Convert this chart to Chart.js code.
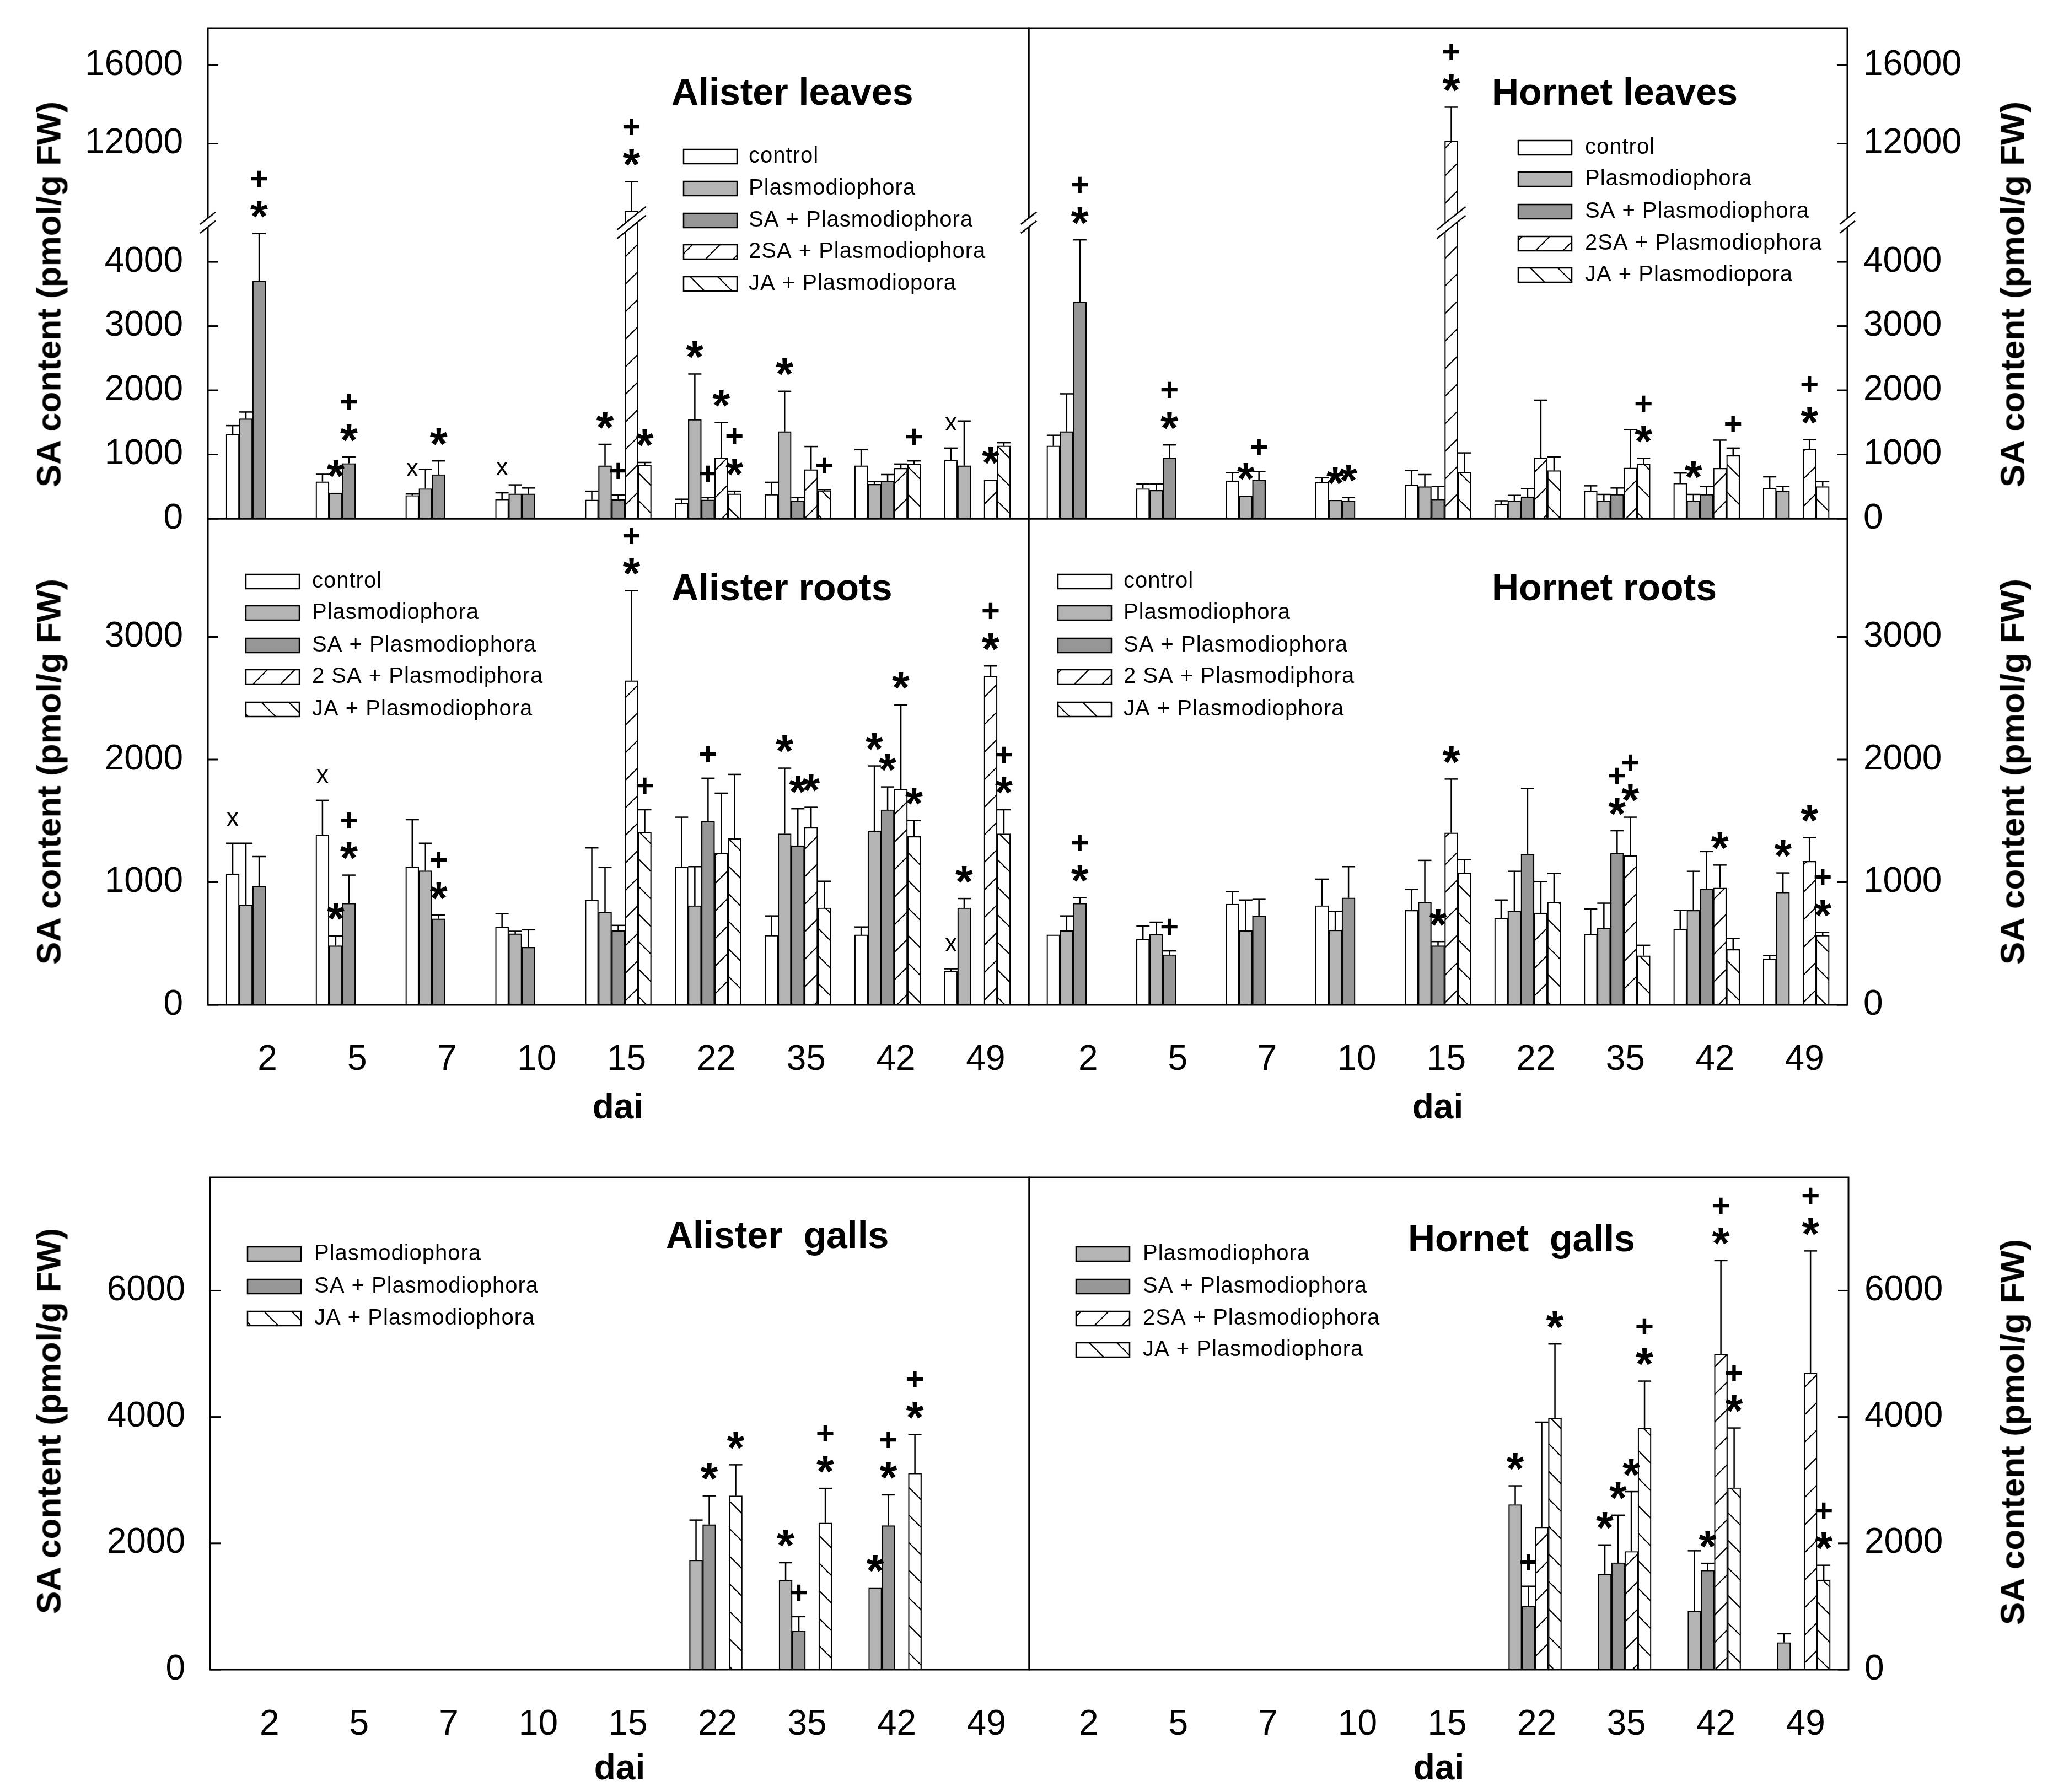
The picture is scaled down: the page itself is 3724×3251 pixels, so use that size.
<!DOCTYPE html>
<html>
<head>
<meta charset="utf-8">
<script src="https://cdn.jsdelivr.net/npm/chart.js@4.4.1/dist/chart.umd.min.js"></script>
<style>
  html, body { margin: 0; padding: 0; background: #fff; }
  body { width: 3724px; height: 3251px; position: relative; overflow: hidden; font-family: "Liberation Sans", Arial, sans-serif; }
  canvas { position: absolute; }
  .yt { position: absolute; transform: translate(-50%, -50%) rotate(-90deg); font-weight: bold; font-size: 62px; white-space: nowrap; }
  .xt { position: absolute; transform: translate(-50%, -50%); font-weight: bold; font-size: 64px; }
</style>
</head>
<body>
<canvas id="alLeaves"></canvas>
<canvas id="hoLeaves"></canvas>
<canvas id="alRoots"></canvas>
<canvas id="hoRoots"></canvas>
<canvas id="alGalls"></canvas>
<canvas id="hoGalls"></canvas>

<div class="yt" style="left:88px; top:534px">SA content (pmol/g FW)</div>
<div class="yt" style="left:88px; top:1400px">SA content (pmol/g FW)</div>
<div class="yt" style="left:88px; top:2578px">SA content (pmol/g FW)</div>
<div class="yt" style="left:3650px; top:534px">SA content (pmol/g FW)</div>
<div class="yt" style="left:3650px; top:1400px">SA content (pmol/g FW)</div>
<div class="yt" style="left:3650px; top:2598px">SA content (pmol/g FW)</div>
<div class="xt" style="left:1121px; top:2007px">dai</div>
<div class="xt" style="left:2608px; top:2007px">dai</div>
<div class="xt" style="left:1124px; top:3206px">dai</div>
<div class="xt" style="left:2610px; top:3206px">dai</div>

<script>
const N = null;
const days = [2, 5, 7, 10, 15, 22, 35, 42, 49];

// rows: control, Plasmodiophora, SA + P., 2SA + P., JA + P.
// *Mean = bar height, *Top = top of the error bar
const alLeavesMean = [
  [1320, 577, 363, 303, 294, 239, 378, 826, 910],
  [1557, 403, 468, 388, 826, 1547, 1358, 537, 826],
  [3700, 861, 687, 388, 300, 294, 279, 587, N],
  [N, N, N, N, 8550, 950, 766, 786, 602],
  [N, N, N, N, 836, 388, 438, 851, 1134]
];
const alLeavesTop = [
  [1450, 692, 385, 403, 428, 303, 567, 1075, 1100],
  [1662, N, 766, 527, 1159, 2254, 1985, 577, 1522],
  [4443, 960, 900, 478, 370, 328, 328, 687, N],
  [N, N, N, N, 10050, 1498, 1124, 851, N],
  [N, N, N, N, 876, 428, 453, 900, 1184]
];
const alLeavesMarks = [
  ['', '', 'x', 'x', '', '', '', '', 'x'],
  ['', '*', '', '', '*', '*', '*', '', ''],
  ['*+', '*+', '*', '', '+', '+', '', '', ''],
  ['', '', '', '', '*+', '*', '', '', '*'],
  ['', '', '', '', '*', '*+', '+', '+', '']
];

const hoLeavesMean = [
  [1134, 468, 592, 567, 527, 229, 428, 552, 478],
  [1358, 443, 353, 289, 502, 279, 279, 279, 428],
  [3373, 950, 602, 279, 303, 343, 378, 378, N],
  [N, N, N, N, 12130, 950, 791, 786, 1085],
  [N, N, N, N, 726, 751, 851, 985, 502]
];
const hoLeavesTop = [
  [1299, 542, 716, 637, 751, 279, 512, 711, 652],
  [1945, 542, N, N, 687, 363, 378, 378, 502],
  [4343, 1149, 736, 328, 502, 468, 478, 502, N],
  [N, N, N, N, 13860, 1846, 1388, 1224, 1234],
  [N, N, N, N, 1025, 960, 940, 1100, 577]
];
const hoLeavesMarks = [
  ['', '', '', '', '', '', '', '', ''],
  ['', '', '*', '*', '', '', '', '*', ''],
  ['*+', '*+', '+', '*', '', '', '', '', ''],
  ['', '', '', '', '*+', '', '', '', '*+'],
  ['', '', '', '', '', '', '*+', '+', '']
];

const alRootsMean = [
  [1069, 1387, 1127, 635, 855, 1127, 567, 571, 274],
  [817, 483, 1094, 580, 758, 809, 1395, 1420, 791],
  [967, 829, 702, 470, 605, 1497, 1298, 1591, N],
  [N, N, N, N, 2643, 1237, 1446, 1757, 2682],
  [N, N, N, N, 1408, 1357, 791, 1374, 1395]
];
const alRootsTop = [
  [1318, 1668, 1510, 745, 1280, 1530, 725, 635, 294],
  [1318, 562, 1318, 600, 1120, 1127, 1930, 1948, 867],
  [1209, 1058, 732, 612, 648, 1848, 1599, 1777, N],
  [N, N, N, N, 3377, 1726, 1611, 2445, 2763],
  [N, N, N, N, 1591, 1879, 1008, 1502, 1591]
];
const alRootsMarks = [
  ['x', 'x', '', '', '', '', '', '', 'x'],
  ['', '*', '', '', '', '', '*', '*', '*'],
  ['', '*+', '*+', '', '', '+', '*', '*', ''],
  ['', '', '', '', '*+', '', '*', '*', '*+'],
  ['', '', '', '', '+', '', '', '*', '*+']
];

const hoRootsMean = [
  [571, 536, 822, 809, 771, 707, 575, 618, 376],
  [605, 575, 605, 610, 839, 763, 625, 771, 918],
  [829, 409, 727, 873, 483, 1229, 1237, 943, N],
  [N, N, N, N, 1403, 750, 1217, 954, 1171],
  [N, N, N, N, 1076, 839, 401, 452, 567]
];
const hoRootsTop = [
  [N, 643, 924, 1025, 941, 855, 783, 771, 401],
  [725, 674, 855, 763, 1178, 1089, 829, 1089, 1076],
  [873, 440, 860, 1127, 516, 1764, 1420, 1250, N],
  [N, N, N, N, 1841, 1005, 1530, 1140, 1364],
  [N, N, N, N, 1183, 1071, 486, 541, 592]
];
const hoRootsMarks = [
  ['', '', '', '', '', '', '', '', ''],
  ['', '', '', '', '', '', '', '', '*'],
  ['*+', '+', '', '', '*', '', '*+', '', ''],
  ['', '', '', '', '*', '', '*+', '*', '*'],
  ['', '', '', '', '', '', '', '', '*+']
];

const alGallsMean = [
  [N, N, N, N, N, N, N, N, N],
  [N, N, N, N, N, 1734, 1412, 1294, N],
  [N, N, N, N, N, 2297, 609, 2281, N],
  [N, N, N, N, N, N, N, N, N],
  [N, N, N, N, N, 2752, 2322, 3110, N]
];
const alGallsTop = [
  [N, N, N, N, N, N, N, N, N],
  [N, N, N, N, N, 2368, 1693, N, N],
  [N, N, N, N, N, 2752, 839, 2767, N],
  [N, N, N, N, N, N, N, N, N],
  [N, N, N, N, N, 3243, 2870, 3724, N]
];
const alGallsMarks = [
  ['', '', '', '', '', '', '', '', ''],
  ['', '', '', '', '', '', '*', '*', ''],
  ['', '', '', '', '', '*', '+', '*+', ''],
  ['', '', '', '', '', '', '', '', ''],
  ['', '', '', '', '', '*', '*+', '*+', '']
];

const hoGallsMean = [
  [N, N, N, N, N, N, N, N, N],
  [N, N, N, N, N, 2614, 1514, 926, 430],
  [N, N, N, N, N, 1003, 1693, 1575, N],
  [N, N, N, N, N, 2256, 1872, 4992, 4701],
  [N, N, N, N, N, 3985, 3826, 2880, 1422]
];
const hoGallsTop = [
  [N, N, N, N, N, N, N, N, N],
  [N, N, N, N, N, 2910, 1974, 1882, 568],
  [N, N, N, N, N, 1320, 2445, 1683, N],
  [N, N, N, N, N, 3918, 2818, 6476, 6629],
  [N, N, N, N, N, 5156, 4568, 3826, 1652]
];
const hoGallsMarks = [
  ['', '', '', '', '', '', '', '', ''],
  ['', '', '', '', '', '*', '*', '', ''],
  ['', '', '', '', '', '+', '*', '*', ''],
  ['', '', '', '', '', '', '*', '*+', '*+'],
  ['', '', '', '', '', '*', '*+', '*+', '*+']
];

const leavesLegend = ['control', 'Plasmodiophora', 'SA + Plasmodiophora', '2SA + Plasmodiophora', 'JA + Plasmodiopora'];
const rootsLegend = ['control', 'Plasmodiophora', 'SA + Plasmodiophora', '2 SA + Plasmodiphora', 'JA + Plasmodiophora'];
const alGallsLegend = ['Plasmodiophora', 'SA + Plasmodiophora', 'JA + Plasmodiophora'];
const hoGallsLegend = ['Plasmodiophora', 'SA + Plasmodiophora', '2SA + Plasmodiophora', 'JA + Plasmodiophora'];

const leavesTicks = [0, 1000, 2000, 3000, 4000, 12000, 16000];
const rootsTicks = [0, 1000, 2000, 3000];
const gallsTicks = [0, 2000, 4000, 6000];

const FONT = '"Liberation Sans", Arial, sans-serif';

// y scale with an optional break (leaves panels: 0-4600 below, 8000+ above)
const BREAKS = {}, TICKS = {};
class BrokenScale extends Chart.LinearScale {
  buildTicks() {
    return TICKS[this.chart.canvas.id].map(v => ({ value: v }));
  }
  getPixelForValue(v) {
    if (v === null || v === undefined || isNaN(v)) return NaN;
    const b = BREAKS[this.chart.canvas.id];
    const lo = this.min, hi = this.max;
    let d;
    if (!b) d = (v - lo) / (hi - lo);
    else if (v <= b.lowMax) d = (v - lo) / (b.lowMax - lo) * b.lowFrac;
    else if (v < b.highMin) d = b.lowFrac + (v - b.lowMax) / (b.highMin - b.lowMax) * b.gapFrac;
    else d = b.lowFrac + b.gapFrac + (v - b.highMin) / (hi - b.highMin) * (1 - b.lowFrac - b.gapFrac);
    return this.getPixelForDecimal(d);
  }
}
BrokenScale.id = 'broken';
BrokenScale.defaults = {};
Chart.register(BrokenScale);

function hatchTile(dir) {
  const s = 50, c = document.createElement('canvas');
  c.width = s; c.height = s;
  const g = c.getContext('2d');
  g.fillStyle = '#fff'; g.fillRect(0, 0, s, s);
  g.strokeStyle = '#000'; g.lineWidth = 2.2;
  g.beginPath();
  for (let k = -1; k <= 2; k++) {
    if (dir > 0) { g.moveTo(-5, k * s + 5); g.lineTo(k * s + 5, -5); }
    else { g.moveTo(-5, k * s - 5); g.lineTo(s + 5, k * s + s + 5); }
  }
  g.stroke();
  return c;
}

function seg(g, x1, y1, x2, y2) {
  g.beginPath(); g.moveTo(x1, y1); g.lineTo(x2, y2); g.stroke();
}

function glyph(g, ch, x, cy) {
  g.font = ch === '*' ? 'bold 82px ' + FONT : ch === '+' ? 'bold 58px ' + FONT : '44px ' + FONT;
  g.textAlign = 'left'; g.textBaseline = 'alphabetic';
  const m = g.measureText(ch);
  const bx = x - (m.actualBoundingBoxRight - m.actualBoundingBoxLeft) / 2;
  const by = cy + (m.actualBoundingBoxAscent - m.actualBoundingBoxDescent) / 2;
  g.fillText(ch, bx, by);
}

function brkMark(g, x, y, hw) {
  const k = hw * 0.8, d = 8;
  g.save();
  g.fillStyle = '#fff';
  g.beginPath();
  g.moveTo(x - hw, y + d + k); g.lineTo(x + hw, y + d - k);
  g.lineTo(x + hw, y - d - k); g.lineTo(x - hw, y - d + k);
  g.closePath(); g.fill();
  g.strokeStyle = '#000'; g.lineWidth = 2.5;
  seg(g, x - hw, y + d + k, x + hw, y + d - k);
  seg(g, x - hw, y - d + k, x + hw, y - d - k);
  g.restore();
}

// error bars, marks, frame, ticks, break marks, legend, title
function decor(o, cl, ct) {
  return {
    id: 'decor',
    afterDatasetsDraw(chart) {
      const g = chart.ctx, ys = chart.scales.y, a = chart.chartArea;
      g.save();
      g.strokeStyle = '#000'; g.fillStyle = '#000';

      chart.data.datasets.forEach((ds, i) => {
        chart.getDatasetMeta(i).data.forEach((bar, j) => {
          if (ds.data[j] == null) return;
          let anchor = bar.y;
          const top = o.top[i][j];
          if (top != null) {
            const yt = ys.getPixelForValue(top);
            g.lineWidth = 2.5;
            seg(g, bar.x, bar.y, bar.x, yt);
            seg(g, bar.x - 12, yt, bar.x + 12, yt);
            anchor = yt;
          }
          let cy = anchor - 44;
          for (const ch of o.marks[i][j]) { glyph(g, ch, bar.x, cy); cy -= 56; }
        });
      });

      g.lineWidth = 3;
      g.strokeRect(a.left, a.top, a.right - a.left, a.bottom - a.top);
      ys.ticks.forEach(t => {
        const y = ys.getPixelForValue(t.value);
        if (o.side === 'left') seg(g, a.left, y, a.left + 19, y);
        else seg(g, a.right - 19, y, a.right, y);
      });

      if (o.brk) {
        const yb = ys.getPixelForDecimal(o.brk.lowFrac + o.brk.gapFrac / 2);
        brkMark(g, a.left, yb, 14);
        brkMark(g, a.right, yb, 14);
        chart.data.datasets.forEach((ds, i) => chart.getDatasetMeta(i).data.forEach((bar, j) => {
          if (ds.data[j] != null && ds.data[j] > o.brk.lowMax) brkMark(g, bar.x, yb, 26);
        }));
      }

      const L = o.legend;
      g.font = '40px ' + FONT; g.textBaseline = 'middle'; g.textAlign = 'left';
      g.letterSpacing = '1px';
      L.items.forEach((di, k) => {
        const y = L.rows[k] - ct, x = L.x - cl;
        g.fillStyle = chart.data.datasets[di].backgroundColor;
        g.fillRect(x, y - 13, 97, 26);
        g.lineWidth = 2.5; g.strokeRect(x, y - 13, 97, 26);
        g.fillStyle = '#000';
        g.fillText(L.labels[k], L.tx - cl, y);
      });
      g.letterSpacing = '0px';

      g.font = 'bold 68px ' + FONT; g.textBaseline = 'alphabetic';
      g.fillText(o.title[0], o.title[1] - cl, o.title[2] - ct);
      g.restore();
    }
  };
}

function panel(id, o) {
  const cv = document.getElementById(id);
  const [cl, ct, cw, ch] = o.canvas;
  const [al, at, ar, ab] = o.area;
  cv.width = cw; cv.height = ch;
  cv.style.left = cl + 'px'; cv.style.top = ct + 'px';
  const ctx = cv.getContext('2d');
  const fills = ['#ffffff', '#b4b4b4', '#969696',
    ctx.createPattern(hatchTile(1), 'repeat'), ctx.createPattern(hatchTile(-1), 'repeat')];
  TICKS[id] = o.ticks;
  if (o.brk) BREAKS[id] = o.brk;
  const left = o.side === 'left';
  const yW = left ? al - cl : cl + cw - ar;
  const xH = o.showX ? ct + ch - ab : 0;

  new Chart(cv, {
    type: 'bar',
    data: {
      labels: days.map((d, i) => i),
      datasets: o.mean.map((row, i) => ({
        data: row,
        backgroundColor: fills[i],
        borderColor: '#000',
        borderWidth: 2.2,
        borderSkipped: false,
        barThickness: 24
      }))
    },
    options: {
      responsive: false,
      animation: false,
      events: [],
      devicePixelRatio: 1,
      layout: { padding: { left: left ? 0 : al - cl, right: left ? cl + cw - ar : 0, top: at - ct, bottom: o.showX ? 0 : ct + ch - ab } },
      plugins: { legend: { display: false }, tooltip: { enabled: false } },
      scales: {
        x: {
          type: 'linear', offset: false, bounds: 'data', min: -0.5714, max: 8.5714, display: o.showX,
          grid: { display: false }, border: { display: false },
          afterBuildTicks: s => { s.ticks = days.map((d, i) => ({ value: i })); },
          afterFit: s => { s.height = xH; s.paddingLeft = 0; s.paddingRight = 0; },
          ticks: { callback: v => String(days[v]), padding: 54, labelOffset: 15, color: '#000',
                   font: { family: FONT, size: 64 }, maxRotation: 0, autoSkip: false }
        },
        y: {
          type: 'broken', position: o.side, min: 0, max: o.max,
          grid: { display: false }, border: { display: false },
          afterFit: s => { s.width = yW; s.paddingTop = 0; s.paddingBottom = 0; },
          ticks: { callback: v => String(v), padding: left ? 37 : 21, color: '#000',
                   font: { family: FONT, size: 64 }, autoSkip: false }
        }
      }
    },
    plugins: [decor(o, cl, ct)]
  });
}

const leavesBreak = { lowMax: 4600, highMin: 8000, lowFrac: 0.602, gapFrac: 0.003 };

panel('alLeaves', {
  canvas: [0, 0, 1900, 960], area: [377, 51, 1866, 941], side: 'left', showX: false,
  max: 17900, ticks: leavesTicks, brk: leavesBreak,
  mean: alLeavesMean, top: alLeavesTop, marks: alLeavesMarks,
  legend: { x: 1240, tx: 1358, rows: [284, 342, 400, 457, 515], items: [0, 1, 2, 3, 4], labels: leavesLegend },
  title: ['Alister leaves', 1218, 190]
});
panel('hoLeaves', {
  canvas: [1840, 0, 1884, 960], area: [1866, 51, 3351, 941], side: 'right', showX: false,
  max: 17900, ticks: leavesTicks, brk: leavesBreak,
  mean: hoLeavesMean, top: hoLeavesTop, marks: hoLeavesMarks,
  legend: { x: 2754, tx: 2875, rows: [268, 325, 384, 442, 499], items: [0, 1, 2, 3, 4], labels: leavesLegend },
  title: ['Hornet leaves', 2706, 190]
});
panel('alRoots', {
  canvas: [0, 900, 1900, 1100], area: [377, 941, 1866, 1823], side: 'left', showX: true,
  max: 3964, ticks: rootsTicks,
  mean: alRootsMean, top: alRootsTop, marks: alRootsMarks,
  legend: { x: 446, tx: 566, rows: [1055, 1112, 1171, 1228, 1287], items: [0, 1, 2, 3, 4], labels: rootsLegend },
  title: ['Alister roots', 1218, 1089]
});
panel('hoRoots', {
  canvas: [1840, 900, 1884, 1100], area: [1866, 941, 3351, 1823], side: 'right', showX: true,
  max: 3964, ticks: rootsTicks,
  mean: hoRootsMean, top: hoRootsTop, marks: hoRootsMarks,
  legend: { x: 1919, tx: 2038, rows: [1055, 1112, 1171, 1228, 1287], items: [0, 1, 2, 3, 4], labels: rootsLegend },
  title: ['Hornet roots', 2706, 1089]
});
panel('alGalls', {
  canvas: [0, 2100, 1900, 1100], area: [381, 2136, 1867, 3029], side: 'left', showX: true,
  max: 7793, ticks: gallsTicks,
  mean: alGallsMean, top: alGallsTop, marks: alGallsMarks,
  legend: { x: 449, tx: 570, rows: [2275, 2334, 2392], items: [1, 2, 4], labels: alGallsLegend },
  title: ['Alister  galls', 1208, 2264]
});
panel('hoGalls', {
  canvas: [1840, 2100, 1884, 1100], area: [1867, 2136, 3353, 3029], side: 'right', showX: true,
  max: 7793, ticks: gallsTicks,
  mean: hoGallsMean, top: hoGallsTop, marks: hoGallsMarks,
  legend: { x: 1952, tx: 2073, rows: [2275, 2334, 2392, 2449], items: [1, 2, 3, 4], labels: hoGallsLegend },
  title: ['Hornet  galls', 2554, 2270]
});
</script>
</body>
</html>
